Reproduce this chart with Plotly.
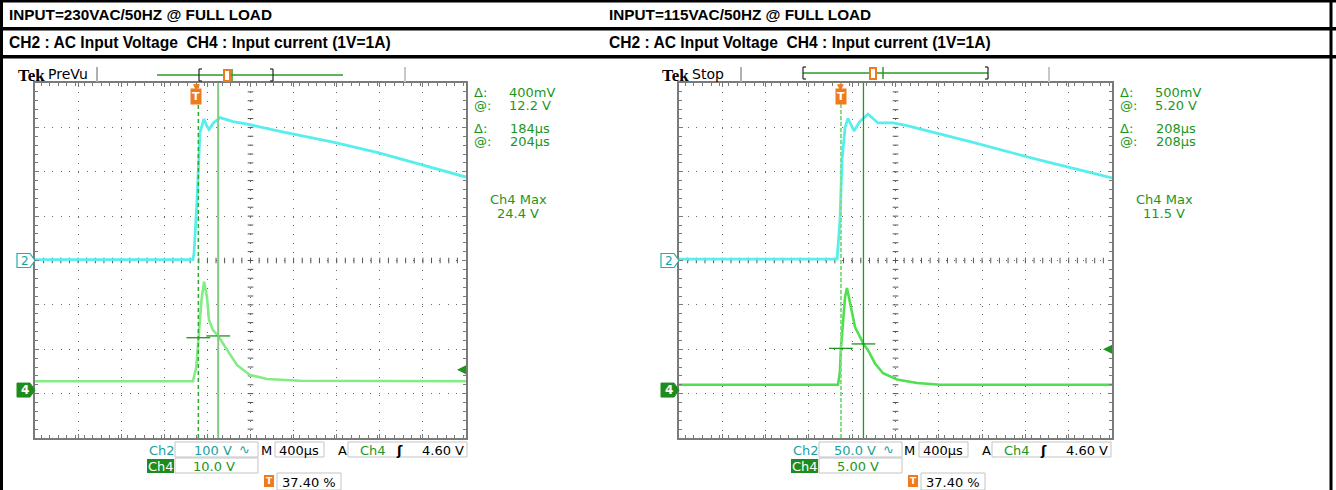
import plotly.graph_objects as go

W, H = 1336, 490

# ---------------- data ----------------
time_per_div_us = 400
trigger_pos_pct = 37.40
trigger_level_v = 4.60

titles = ["INPUT=230VAC/50HZ @ FULL LOAD", "INPUT=115VAC/50HZ @ FULL LOAD"]
subtitle = "CH2 : AC Input Voltage  CH4 : Input current (1V=1A)"
run_state = ["PreVu", "Stop"]
ch2_scale_v = [100, 50]
ch4_scale_v = [10, 5]
ch2_scale_txt = ["100 V", "50.0 V"]
ch4_scale_txt = ["10.0 V", "5.00 V"]
time_scale_txt = "400µs"
trig_txt = "4.60 V"
trig_pos_txt = "37.40 %"

# 230 VAC capture
ch2_230_t = [-1496, -30, -20, 8, 35, 72, 95, 119, 160, 221, 342, 500, 800, 1270, 1687, 2198, 2504]
ch2_230_v = [2, 2, 17, 137, 288, 319, 305, 295, 310, 322, 313, 306, 290, 267, 243, 209, 188]
ch4_230_t = [-1496, -30, 0, 20, 50, 73, 100, 119, 156, 204, 286, 379, 500, 657, 963, 2504]
ch4_230_v = [2.0, 2.0, 5.0, 11.8, 20.5, 24.4, 21.0, 15.8, 13.5, 12.2, 9.0, 5.6, 3.4, 2.5, 2.1, 2.0]
cursor_230_t = [20, 204]
cursor_230_v = [11.8, 12.2]

# 115 VAC capture
ch2_115_t = [-1496, -36, -9, 10, 38, 65, 121, 170, 250, 296, 342, 481, 610, 1220, 1839, 2504]
ch2_115_v = [1.5, 1.5, 45, 113, 150, 160, 146, 156, 165, 160, 155, 155, 152, 133, 113, 93]
ch4_115_t = [-1496, -27, -10, 0, 38, 56, 93, 130, 176, 208, 250, 315, 389, 518, 703, 915, 2504]
ch4_115_v = [0.6, 0.6, 2.0, 4.7, 10.5, 11.5, 9.3, 7.1, 6.0, 5.2, 4.5, 3.0, 1.9, 1.2, 0.8, 0.6, 0.6]
cursor_115_t = [0, 208]
cursor_115_v = [4.7, 5.2]

cursor_dv_txt = ["400mV", "500mV"]
cursor_v_txt = ["12.2 V", "5.20 V"]
cursor_dt_txt = ["184µs", "208µs"]
cursor_t_txt = ["204µs", "208µs"]
ch4_max_txt = ["24.4 V", "11.5 V"]

# ---------------- helpers ----------------
GY0, GY1 = 83, 438
GREEN_TXT = "#1c961c"
TEAL_TXT = "#1aa0a0"
ORANGE = "#f07a1e"
GRID = "#6a6a6a"
FRAME = "#7a7a7a"
HEAD_FONT = "Liberation Sans, Arial, sans-serif"

shapes, annotations = [], []


def X(px):
    return px / W


def Y(py):
    return 1 - py / H


def text(x, y, s, size=13, color=GREEN_TXT, family="DejaVu Sans", xanchor="left", **kw):
    annotations.append(dict(x=X(x), y=Y(y), xref="paper", yref="paper", text=s, showarrow=False,
                            xanchor=xanchor, yanchor="middle",
                            font=dict(size=size, color=color, family=family), **kw))


def rect(x0, y0, x1, y1, fill=None, line=None, lw=1):
    shapes.append(dict(type="rect", xref="paper", yref="paper", x0=X(x0), x1=X(x1), y0=Y(y1), y1=Y(y0),
                       fillcolor=fill or "rgba(0,0,0,0)",
                       line=dict(color=line or "rgba(0,0,0,0)", width=lw if line else 0)))


def seg(x0, y0, x1, y1, color, width=1, dash="solid"):
    shapes.append(dict(type="line", xref="paper", yref="paper", x0=X(x0), x1=X(x1), y0=Y(y0), y1=Y(y1),
                       line=dict(color=color, width=width, dash=dash)))


fig = go.Figure()

t_start = -trigger_pos_pct / 100 * 10 * time_per_div_us
t_end = t_start + 10 * time_per_div_us
t_center = t_start + 5 * time_per_div_us
ch4_offset_div = 2.92

panels = [
    dict(gx0=35, gx1=466, hx=7, xa="x", ya="y", ya4="y3", xk="xaxis", yk="yaxis", y4k="yaxis3",
         t2=ch2_230_t, v2=ch2_230_v, t4=ch4_230_t, v4=ch4_230_v, ct=cursor_230_t, cv=cursor_230_v,
         c4="#84ec84", cur1=dict(color="#2ea82e", width=1.5, dash="4px,3px"),
         cur2=dict(color="#84c884", width=2, dash="solid"),
         rec=dict(y=75, l0=157, l1=343, b0=199, b1=273, ic=224, tk=232)),
    dict(gx0=679, gx1=1112, hx=607, xa="x2", ya="y2", ya4="y4", xk="xaxis2", yk="yaxis2", y4k="yaxis4",
         t2=ch2_115_t, v2=ch2_115_v, t4=ch4_115_t, v4=ch4_115_v, ct=cursor_115_t, cv=cursor_115_v,
         c4="#4ee04e", cur1=dict(color="#84dc84", width=2, dash="4px,2px"),
         cur2=dict(color="#1e9a1e", width=1.3, dash="solid"),
         rec=dict(y=73, l0=803, l1=988, b0=803, b1=988, ic=870, tk=883)),
]

layout_axes = {}
for i, p in enumerate(panels):
    gx0, gx1 = p["gx0"], p["gx1"]
    s2, s4 = ch2_scale_v[i], ch4_scale_v[i]
    dom_x = [X(gx0), X(gx1)]
    dom_y = [Y(GY1), Y(GY0)]
    layout_axes[p["xk"]] = dict(
        domain=dom_x, range=[t_start, t_end], anchor=p["ya"], tick0=t_start, dtick=time_per_div_us,
        showgrid=True, gridcolor=GRID, gridwidth=1, griddash="1px,7.9px", zeroline=False,
        showline=True, linecolor=FRAME, linewidth=2, mirror="ticks", ticks="inside", ticklen=4,
        tickcolor=FRAME, showticklabels=False, fixedrange=True,
        minor=dict(dtick=time_per_div_us / 5, ticks="inside", ticklen=3, tickcolor=FRAME, showgrid=False))
    layout_axes[p["yk"]] = dict(
        domain=dom_y, range=[-4 * s2, 4 * s2], anchor=p["xa"], tick0=0, dtick=s2,
        showgrid=True, gridcolor=GRID, gridwidth=1, griddash="1px,7.6px", zeroline=False,
        showline=True, linecolor=FRAME, linewidth=2, mirror="ticks", ticks="inside", ticklen=4,
        tickcolor=FRAME, showticklabels=False, fixedrange=True,
        minor=dict(dtick=s2 / 5, ticks="inside", ticklen=3, tickcolor=FRAME, showgrid=False))
    layout_axes[p["y4k"]] = dict(
        overlaying=p["ya"], anchor=p["xa"], visible=False,
        range=[(-4 + ch4_offset_div) * s4, (4 + ch4_offset_div) * s4])

    # centre graticule ticks
    fig.add_trace(go.Scatter(
        x=[t_start + k * time_per_div_us / 5 for k in range(1, 50)], y=[0] * 49,
        xaxis=p["xa"], yaxis=p["ya"], mode="markers", hoverinfo="skip",
        marker=dict(symbol="line-ns", size=4, line=dict(color="#555", width=1))))
    fig.add_trace(go.Scatter(
        x=[t_center] * 39, y=[-4 * s2 + k * s2 / 5 for k in range(1, 40)],
        xaxis=p["xa"], yaxis=p["ya"], mode="markers", hoverinfo="skip",
        marker=dict(symbol="line-ew", size=4, line=dict(color="#555", width=1))))

    # cursors
    for ct, st in zip(p["ct"], [p["cur1"], p["cur2"]]):
        shapes.append(dict(type="line", xref=p["xa"], yref=p["ya"] + " domain", x0=ct, x1=ct, y0=0, y1=1,
                           line=st))

    # waveforms
    fig.add_trace(go.Scatter(x=p["t2"], y=p["v2"], xaxis=p["xa"], yaxis=p["ya"], mode="lines",
                             line=dict(color="#58eeee", width=2.8), hoverinfo="skip"))
    fig.add_trace(go.Scatter(x=p["t4"], y=p["v4"], xaxis=p["xa"], yaxis=p["ya4"], mode="lines",
                             line=dict(color=p["c4"], width=2.6), hoverinfo="skip"))
    # cursor crossings
    fig.add_trace(go.Scatter(x=p["ct"], y=p["cv"], xaxis=p["xa"], yaxis=p["ya4"], mode="markers",
                             hoverinfo="skip",
                             marker=dict(symbol="line-ew", size=17, line=dict(color="#1c961c", width=1.3))))

    # trigger level arrow
    px_per_us = (gx1 - gx0) / (t_end - t_start)
    annotations.append(dict(x=t_end - 9 / px_per_us, y=trigger_level_v, xref=p["xa"], yref=p["ya4"],
                            text="", showarrow=True, ax=8, ay=0, arrowhead=2, arrowsize=1.2,
                            arrowwidth=1.5, arrowcolor="#1c961c"))

    # channel markers
    shapes.append(dict(type="path", xref="paper", yref=p["ya"], xsizemode="pixel", ysizemode="pixel",
                       xanchor=X(gx0), yanchor=0,
                       path="M -18,-7 L -5,-7 L 0,0 L -5,7 L -18,7 Z",
                       fillcolor="white", line=dict(color="#20b0b0", width=1.2)))
    annotations.append(dict(x=X(gx0 - 10.5), y=0, xref="paper", yref=p["ya"], text="2", showarrow=False,
                            xanchor="center", yanchor="middle",
                            font=dict(size=12, color=TEAL_TXT, family="DejaVu Sans")))
    shapes.append(dict(type="path", xref="paper", yref=p["ya4"], xsizemode="pixel", ysizemode="pixel",
                       xanchor=X(gx0), yanchor=0,
                       path="M -18,-7 L -5,-7 L 0,0 L -5,7 L -18,7 Z",
                       fillcolor="#1d8c1d", line=dict(color="#1d8c1d", width=1)))
    annotations.append(dict(x=X(gx0 - 10.5), y=0, xref="paper", yref=p["ya4"], text="<b>4</b>",
                            showarrow=False, xanchor="center", yanchor="middle",
                            font=dict(size=12, color="white", family="DejaVu Sans")))

    # trigger position marker "T"
    annotations.append(dict(x=0, y=Y(97), xref=p["xa"], yref="paper", text="<b>T</b>", showarrow=False,
                            xanchor="center", yanchor="middle", bgcolor=ORANGE, borderpad=1,
                            font=dict(size=11, color="white", family="DejaVu Sans")))
    annotations.append(dict(x=0, y=Y(87), xref=p["xa"], yref="paper", text="▼", showarrow=False,
                            xanchor="center", yanchor="middle",
                            font=dict(size=9, color=ORANGE, family="DejaVu Sans")))

    # header
    text(p["hx"], 14, "<b>" + titles[i] + "</b>", size=15.3, color="black", family=HEAD_FONT)
    text(p["hx"], 42, "<b>" + subtitle + "</b>", size=15.6, color="black", family=HEAD_FONT)

    # top status bar
    text(gx0 - 19, 75, "<b>Tek</b>", size=17, color="black", family="Liberation Serif")
    text(gx0 + 11, 74, run_state[i], size=14, color="black", family="DejaVu Sans")
    seg(gx0 + 62, 67, gx0 + 62, 82, "#b0b0b0", 2)
    seg(gx0 + 370, 67, gx0 + 370, 82, "#c8c8c8", 2)
    r = p["rec"]
    seg(r["l0"], r["y"], r["l1"], r["y"], "#2a9a2a", 1.5)
    for bx, d in ((r["b0"], 3), (r["b1"], -3)):
        seg(bx, r["y"] - 6, bx, r["y"] + 6, "#333", 1.3)
        seg(bx, r["y"] - 6, bx + d, r["y"] - 6, "#333", 1.3)
        seg(bx, r["y"] + 6, bx + d, r["y"] + 6, "#333", 1.3)
    rect(r["ic"], r["y"] - 5, r["ic"] + 6, r["y"] + 6, fill="white", line=ORANGE, lw=2)
    seg(r["tk"], r["y"] - 6, r["tk"], r["y"] + 6, "#2a9a2a", 1.5)

    # cursor readouts
    xr = gx1 + 6
    text(xr, 92, "Δ:", size=13)
    text(xr, 105, "@:", size=13)
    text(xr, 128, "Δ:", size=13)
    text(xr, 141, "@:", size=13)
    text(gx1 + 41, 92, cursor_dv_txt[i], size=13)
    text(gx1 + 41, 105, cursor_v_txt[i], size=13)
    text(gx1 + 42, 128, cursor_dt_txt[i], size=13)
    text(gx1 + 42, 141, cursor_t_txt[i], size=13)
    text(gx1 + 52, 199, "Ch4 Max", size=13, xanchor="center")
    text(gx1 + 52, 213, ch4_max_txt[i], size=13, xanchor="center")

    # bottom readouts
    BOX = "#c4c4c4"
    text(gx0 + 112, 450, "Ch2", size=13, color=TEAL_TXT)
    rect(gx0 + 140, 442, gx0 + 223, 457, line=BOX)
    text(gx0 + 199, 450, ch2_scale_txt[i], size=13, color=TEAL_TXT, xanchor="right")
    text(gx0 + 209, 449, "∿", size=13, color=TEAL_TXT, xanchor="center")
    text(gx0 + 231, 450, "M", size=13, color="black", xanchor="center")
    rect(gx0 + 240, 442, gx0 + 289, 457, line=BOX)
    text(gx0 + 264, 450, time_scale_txt, size=13, color="black", xanchor="center")
    text(gx0 + 307, 450, "A", size=13, color="black", xanchor="center")
    rect(gx0 + 313, 442, gx0 + 432, 457, line=BOX)
    text(gx0 + 323, 450, "Ch4", size=13, color=GREEN_TXT)
    text(gx0 + 364, 450, "<b>ʃ</b>", size=13, color="black", xanchor="center")
    text(gx0 + 431, 450, trig_txt, size=13, color="black", xanchor="right")

    rect(gx0 + 112, 459, gx0 + 139, 473, fill="#1d8c1d")
    text(gx0 + 125.5, 466, "Ch4", size=13, color="white", xanchor="center")
    rect(gx0 + 140, 458, gx0 + 223, 473, line=BOX)
    text(gx0 + 156, 466, ch4_scale_txt[i], size=13, color=GREEN_TXT)

    rect(gx0 + 229, 475, gx0 + 239, 487, fill=ORANGE)
    text(gx0 + 234, 481, "<b>T</b>", size=9, color="white", xanchor="center")
    rect(gx0 + 242, 473, gx0 + 306, 490, line=BOX)
    text(gx0 + 245, 482, trig_pos_txt, size=13, color="black")

# outer frame
rect(0, 0, 1336, 2.5, fill="black")
rect(0, 27, 1336, 30.5, fill="black")
rect(0, 55, 1336, 58.5, fill="black")
rect(0, 0, 3, 490, fill="black")
rect(1329.5, 0, 1332.5, 490, fill="black")

fig.update_layout(
    width=W, height=H, margin=dict(l=0, r=0, t=0, b=0),
    paper_bgcolor="white", plot_bgcolor="white", showlegend=False, hovermode=False,
    shapes=shapes, annotations=annotations, **layout_axes)

fig.write_html("out.html", config={"displayModeBar": False, "staticPlot": True},
               post_script="document.body.style.margin='0';document.body.style.overflow='hidden';")
